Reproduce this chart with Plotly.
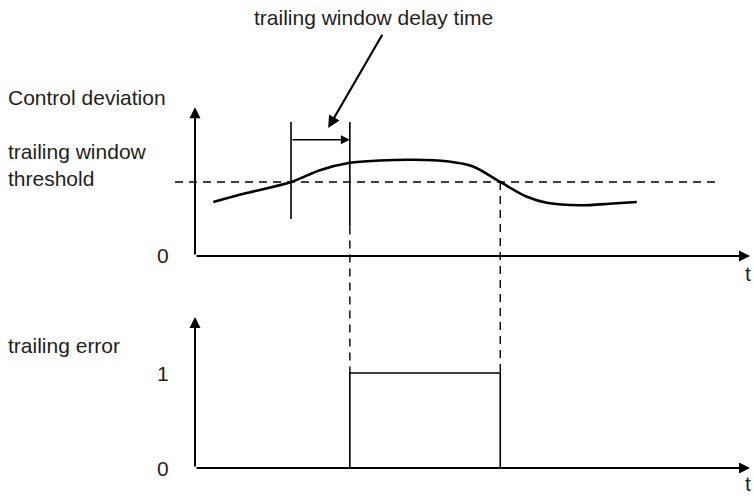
import plotly.graph_objects as go

# ---------------- data (time units / signal units) ----------------
t_curve = [0.33, 0.93, 1.73, 2.25, 2.79, 3.33, 3.93, 4.54, 5.01, 5.50, 5.98, 6.34, 6.94, 7.53, 7.96]
dev_curve = [0.73, 0.85, 1.00, 1.16, 1.26, 1.29, 1.30, 1.28, 1.21, 1.00, 0.80, 0.72, 0.685, 0.71, 0.73]

threshold = 1.0
threshold_span = [-0.36, 9.37]

t_cross = 1.73        # curve crosses threshold (window starts)
t_delay_end = 2.79    # end of trailing window delay time
t_drop = 5.50         # curve falls back below threshold

err_t = [t_delay_end, t_delay_end, t_drop, t_drop]
err_v = [0, 1, 1, 0]

t_axis_end = 10.0
dev_axis_top = 2.01
err_axis_top = 1.59

FONT = "Liberation Sans, Arial, sans-serif"
FS = 21
TXT = "#1e1e1e"

# axis ranges (both y axes span full height; deviation on y, error on y2)
XR = [-3.5135, 10.072]
YR = [-3.243, 3.459]
Y2R = [-0.2947, 4.9263]


def dev_to_err(v):
    f = (v - YR[0]) / (YR[1] - YR[0])
    return Y2R[0] + f * (Y2R[1] - Y2R[0])


fig = go.Figure()

# control deviation curve
fig.add_trace(go.Scatter(x=t_curve, y=dev_curve, mode="lines",
                         line=dict(color="black", width=2.6, shape="spline", smoothing=0.9),
                         hoverinfo="skip"))
# threshold dashed line
fig.add_trace(go.Scatter(x=threshold_span, y=[threshold, threshold], mode="lines",
                         line=dict(color="black", width=1.6, dash="8px,6px"), hoverinfo="skip"))
# delay window verticals
fig.add_trace(go.Scatter(x=[t_cross, t_cross], y=[1.81, 0.50], mode="lines",
                         line=dict(color="black", width=1.6), hoverinfo="skip"))
fig.add_trace(go.Scatter(x=[t_delay_end, t_delay_end], y=[1.81, 0.40], mode="lines",
                         line=dict(color="black", width=1.6), hoverinfo="skip"))
# dashed connectors to the lower chart
fig.add_trace(go.Scatter(x=[t_delay_end, t_delay_end], y=[dev_to_err(0.40), 1], mode="lines",
                         yaxis="y2", line=dict(color="black", width=1.4, dash="8px,6px"), hoverinfo="skip"))
fig.add_trace(go.Scatter(x=[t_drop, t_drop], y=[dev_to_err(threshold), 1], mode="lines",
                         yaxis="y2", line=dict(color="black", width=1.4, dash="8px,6px"), hoverinfo="skip"))
# trailing error pulse
fig.add_trace(go.Scatter(x=err_t, y=err_v, mode="lines", yaxis="y2",
                         line=dict(color="black", width=1.6), hoverinfo="skip"))

ann = []


def arrow(x, y, ax, ay, yref="y", w=2.0, head=2, size=1.0):
    ann.append(dict(x=x, y=y, ax=ax, ay=ay, xref="x", yref=yref, axref="x", ayref=yref,
                    text="", showarrow=True, arrowhead=head, arrowsize=size, arrowwidth=w,
                    arrowcolor="black", standoff=0, startstandoff=0))


# upper axes
arrow(0, dev_axis_top, 0, 0, w=2.0, size=1.1)
arrow(t_axis_end, 0, 0, 0, w=2.0, size=1.1)
# lower axes
arrow(0, err_axis_top, 0, 0, yref="y2", w=2.0, size=1.1)
arrow(t_axis_end, 0, 0, 0, yref="y2", w=2.0, size=1.1)
# delay window arrow
arrow(t_delay_end, 1.57, t_cross, 1.57, w=1.5, size=1.2)
# pointer arrow from label
arrow(2.40, 1.73, 3.39, 3.01, w=2.2, size=1.1)


def label(text, x, y, xref="x", yref="y", xanchor="center"):
    ann.append(dict(text=text, x=x, y=y, xref=xref, yref=yref, xanchor=xanchor, yanchor="middle",
                    showarrow=False, align="left",
                    font=dict(family=FONT, size=FS, color=TXT)))


label("trailing window delay time", 373 / 754, 1 - 18 / 496, "paper", "paper")
label("Control deviation", 6 / 754, 1 - 98 / 496, "paper", "paper", "left")
label("trailing window<br>threshold", 6 / 754, 1 - 165 / 496, "paper", "paper", "left")
label("trailing error", 6 / 754, 1 - 345 / 496, "paper", "paper", "left")
label("0", -0.577, 0)
label("0", -0.577, 0, yref="y2")
label("1", -0.577, 1, yref="y2")
label("t", 9.97, -0.23)
label("t", 9.97, -0.16, yref="y2")

fig.update_layout(
    width=754, height=496,
    margin=dict(l=0, r=0, t=0, b=0),
    paper_bgcolor="white", plot_bgcolor="white",
    showlegend=False,
    xaxis=dict(range=XR, visible=False, fixedrange=True),
    yaxis=dict(range=YR, visible=False, fixedrange=True),
    yaxis2=dict(range=Y2R, visible=False, overlaying="y", fixedrange=True),
    annotations=ann,
)

fig.write_html("out.html", config={"displayModeBar": False},
               post_script="document.body.style.margin='0px';")
